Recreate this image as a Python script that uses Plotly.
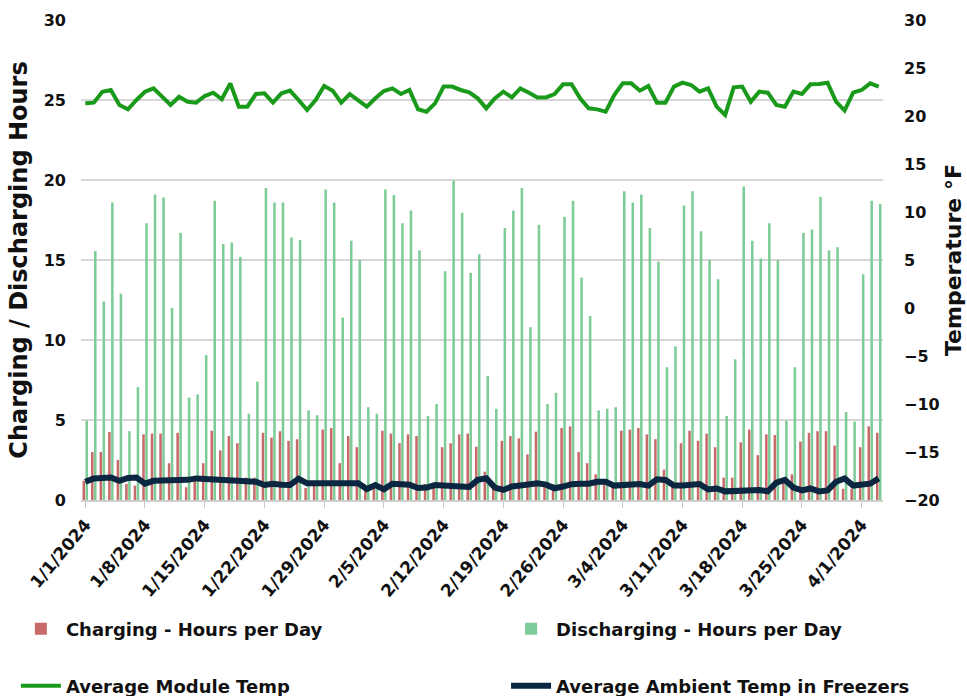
import pandas as pd
import plotly.graph_objects as go

start_date = "2024-01-01"
end_date = "2024-04-03"

charging_hours = [
    1.2, 3.0, 3.0, 4.25, 2.5, 1.0, 0.9, 4.1, 4.15, 4.15,
    2.3, 4.2, 0.8, 1.2, 2.3, 4.33, 3.1, 4.0, 3.55, 1.4,
    1.4, 4.2, 3.9, 4.3, 3.7, 3.8, 0.75, 0.9, 4.4, 4.5,
    2.3, 4.0, 3.3, 0.9, 0.9, 4.33, 4.15, 3.55, 4.1, 4.0,
    1.0, 1.0, 3.3, 3.55, 4.1, 4.15, 3.33, 1.77, 1.0, 3.7,
    4.0, 3.85, 2.85, 4.27, 1.0, 1.0, 4.5, 4.6, 3.0, 2.3,
    1.6, 1.0, 1.0, 4.33, 4.4, 4.5, 4.1, 3.8, 1.9, 1.0,
    3.55, 4.33, 3.7, 4.15, 3.3, 1.4, 1.4, 3.6, 4.4, 2.8,
    4.1, 4.06, 1.0, 1.6, 3.65, 4.2, 4.3, 4.3, 3.4, 0.7,
    0.7, 3.3, 4.6, 4.2,
]

discharging_hours = [
    4.96, 15.56, 12.4, 18.6, 12.9, 4.3, 7.06, 17.3, 19.1, 18.9,
    12.0, 16.7, 6.4, 6.6, 9.06, 18.7, 16.0, 16.1, 15.2, 5.4,
    7.4, 19.5, 18.6, 18.6, 16.4, 16.25, 5.6, 5.3, 19.4, 18.6,
    11.4, 16.2, 15.0, 5.8, 5.4, 19.4, 19.06, 17.3, 18.1, 15.6,
    5.25, 6.0, 14.3, 19.96, 17.96, 14.2, 15.35, 7.75, 5.7, 17.0,
    18.1, 19.5, 10.8, 17.2, 6.0, 6.7, 17.7, 18.7, 13.9, 11.5,
    5.6, 5.7, 5.8, 19.3, 18.6, 19.1, 17.0, 14.9, 8.3, 9.6,
    18.4, 19.3, 16.8, 15.0, 13.8, 5.25, 8.8, 19.6, 16.2, 15.1,
    17.3, 15.0, 4.96, 8.3, 16.7, 16.9, 18.96, 15.6, 15.8, 5.5,
    4.9, 14.1, 18.7, 18.5,
]

module_temp = [
    21.32, 21.39, 22.53, 22.71, 21.15, 20.70, 21.67, 22.53, 22.88, 22.08,
    21.15, 22.01, 21.49, 21.39, 22.08, 22.43, 21.74, 23.40, 20.97, 20.97,
    22.29, 22.36, 21.39, 22.36, 22.64, 21.67, 20.63, 21.67, 23.13, 22.64,
    21.39, 22.29, 21.67, 20.97, 21.84, 22.60, 22.88, 22.29, 22.71, 20.70,
    20.45, 21.32, 23.06, 23.06, 22.71, 22.47, 21.84, 20.80, 21.84, 22.54,
    21.94, 22.88, 22.43, 21.94, 21.94, 22.29, 23.30, 23.30, 21.84, 20.80,
    20.69, 20.45, 22.19, 23.40, 23.40, 22.64, 23.13, 21.39, 21.39, 23.06,
    23.47, 23.23, 22.54, 22.88, 20.97, 20.10, 22.99, 23.06, 21.49, 22.54,
    22.43, 21.15, 20.97, 22.54, 22.29, 23.30, 23.33, 23.47, 21.49, 20.56,
    22.43, 22.71, 23.40, 23.06,
]

ambient_temp = [
    -18.10, -17.75, -17.70, -17.65, -18.00, -17.70, -17.65, -18.30, -18.00, -18.00,
    -17.98, -17.98, -17.90, -17.75, -17.80, -17.85, -17.85, -17.85, -17.90, -17.92,
    -18.10, -18.44, -18.30, -18.40, -18.44, -17.80, -18.26, -18.26, -18.26, -18.26,
    -18.26, -18.26, -18.26, -18.85, -18.45, -18.89, -18.30, -18.35, -18.40, -18.75,
    -18.70, -18.45, -18.55, -18.60, -18.60, -18.65, -17.90, -17.74, -18.70, -18.95,
    -18.60, -18.50, -18.35, -18.26, -18.40, -18.78, -18.60, -18.35, -18.30, -18.30,
    -18.10, -18.09, -18.50, -18.44, -18.26, -18.33, -18.50, -17.85, -17.92, -18.50,
    -18.50, -18.44, -18.33, -18.90, -18.80, -19.10, -19.05, -19.00, -19.00, -18.95,
    -19.10, -18.20, -17.90, -18.70, -19.00, -18.80, -19.10, -19.00, -18.10, -17.75,
    -18.50, -18.45, -18.30, -17.75,
]

series_names = [
    "Charging - Hours per Day",
    "Discharging - Hours per Day",
    "Average Module Temp",
    "Average Ambient Temp in Freezers",
]

dates = pd.date_range(start=start_date, end=end_date, freq="D")

FONT = "DejaVu Sans"
TXT = "#111111"

fig = go.Figure()
fig.add_trace(go.Bar(
    x=dates, y=charging_hours, name=series_names[0],
    marker=dict(color="#C96A6A", line=dict(width=0)),
    legend="legend",
))
fig.add_trace(go.Bar(
    x=dates, y=discharging_hours, name=series_names[1],
    marker=dict(color="#7CCB98", line=dict(width=0)),
    legend="legend2",
))
fig.add_trace(go.Scatter(
    x=dates, y=module_temp, name=series_names[2], mode="lines",
    line=dict(color="#1A9A1A", width=4), yaxis="y2",
    legend="legend3",
))
fig.add_trace(go.Scatter(
    x=dates, y=ambient_temp, name=series_names[3], mode="lines",
    line=dict(color="#0B2640", width=6), yaxis="y2",
    legend="legend4",
))

legend_common = dict(
    font=dict(family=FONT, size=18, color=TXT, weight="bold"),
    bgcolor="rgba(0,0,0,0)", xanchor="left", yanchor="middle",
    orientation="h", itemwidth=40, visible=True,
)

fig.update_layout(
    width=967, height=696,
    showlegend=True,
    margin=dict(l=81, r=84, t=20, b=196, autoexpand=False),
    paper_bgcolor="white", plot_bgcolor="white",
    barmode="group", bargap=0.3, bargroupgap=0.15,
    font=dict(family=FONT, color=TXT),
    xaxis=dict(
        type="date",
        range=["2023-12-31 12:00", "2024-04-03 12:00"],
        tick0=start_date, dtick=7 * 24 * 3600 * 1000,
        tickformat="%-m/%-d/%Y", tickangle=-50,
        tickfont=dict(family=FONT, size=17, color=TXT, weight="bold"),
        showgrid=False, showline=True, linecolor="#d0d0d0", linewidth=2,
        ticks="outside", ticklen=6, tickcolor="#c8c8c8", tickwidth=1,
        automargin=False,
    ),
    yaxis=dict(
        range=[0, 30], dtick=5, showgrid=True, gridcolor="#d6d6d6", gridwidth=2,
        zeroline=False, showline=False,
        tickfont=dict(family=FONT, size=16, color=TXT, weight="bold"),
        ticklabelstandoff=14,
        title=dict(text="Charging / Discharging Hours",
                   font=dict(family=FONT, size=24, color=TXT, weight="bold"),
                   standoff=9),
        automargin=False,
    ),
    yaxis2=dict(
        range=[-20, 30], dtick=5, overlaying="y", side="right",
        showgrid=False, zeroline=False, showline=False,
        tickfont=dict(family=FONT, size=16, color=TXT, weight="bold"),
        ticklabelstandoff=20,
        title=dict(text="Temperature °F",
                   font=dict(family=FONT, size=22, color=TXT, weight="bold"),
                   standoff=6),
        automargin=False,
    ),
    legend=dict(x=-0.0812, y=-0.269, **legend_common),
    legend2=dict(x=0.530, y=-0.269, **legend_common),
    legend3=dict(x=-0.0812, y=-0.3875, **legend_common),
    legend4=dict(x=0.530, y=-0.3875, **legend_common),
)

fig.write_html("out.html", config={"displayModeBar": False},
               post_script="document.body.style.margin='0';")
